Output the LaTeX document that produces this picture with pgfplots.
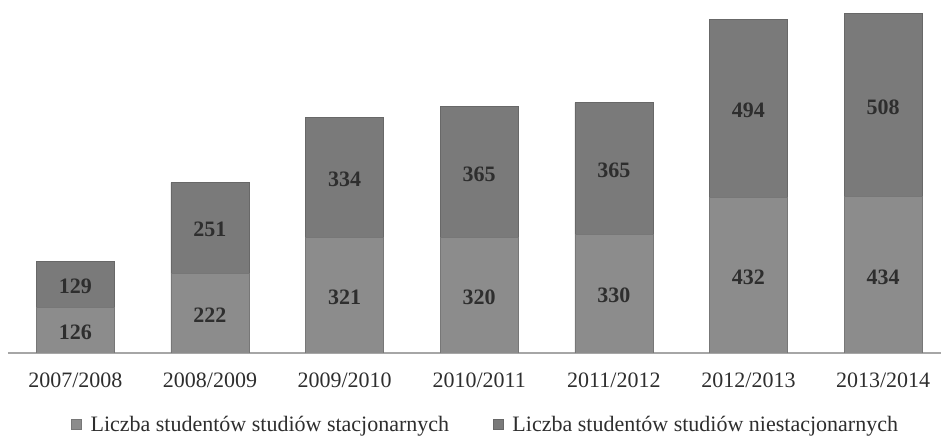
\documentclass[border=0pt]{standalone}
\usepackage{pgfplots}
\pgfplotsset{compat=1.18}
\usepackage{pgfplotstable}
\usepackage{fontspec}
\setmainfont{Liberation Serif}
\definecolor{barlow}{HTML}{8C8C8C}
\definecolor{barhigh}{HTML}{7A7A7A}
\definecolor{txt}{HTML}{2E2E2E}
\pgfplotstableread{
x stac niestac
0 126 129
1 222 251
2 321 334
3 320 365
4 330 365
5 432 494
6 434 508
}\datatable
\begin{document}
\begin{tikzpicture}
\useasboundingbox (0,0) rectangle (470.5pt,218.5pt);
\begin{axis}[
  at={(4pt,42pt)}, anchor=south west,
  scale only axis, width=466.5pt, height=176.5pt,
  ybar stacked, bar width=39pt,
  xmin=-0.5, xmax=6.43, ymin=0, ymax=980,
  axis x line*=bottom, hide y axis,
  x axis line style={draw=black!35, line width=0.6pt, -},
  xtick=data,
  xticklabels={2007/2008,2008/2009,2009/2010,2010/2011,2011/2012,2012/2013,2013/2014},
  major tick length=0pt,
  xticklabel style={font=\fontsize{11}{13}\selectfont, text=txt, yshift=-6.5pt},
  nodes near coords={\pgfmathprintnumber[assume math mode=true]{\pgfplotspointmeta}},
  every node near coord/.style={font=\fontsize{11}{13}\selectfont\bfseries, text=txt, anchor=center, yshift=-1pt},
  legend columns=2,
  legend style={draw=none, at={(0.513,-0.205)}, anchor=center,
    font=\fontsize{11}{13}\selectfont, text=txt,
    /tikz/every even column/.append style={column sep=20pt},
    inner sep=0pt},
  legend image code/.code={\fill[#1] (0pt,-2.2pt) rectangle (5pt,2.8pt); \path[draw=none,fill=none] (0pt,0pt) -- (7.5pt,0pt);},
]
\addplot[fill=barlow, draw=barlow!85!black, line width=0.3pt,
  point meta=\thisrow{stac}]
  table[x=x, y=stac] {\datatable};
\addlegendentry{Liczba studentów studiów stacjonarnych}
\addplot[fill=barhigh, draw=barhigh!85!black, line width=0.3pt,
  point meta=\thisrow{niestac}]
  table[x=x, y=niestac] {\datatable};
\addlegendentry{Liczba studentów studiów niestacjonarnych}
\end{axis}
\end{tikzpicture}
\end{document}
